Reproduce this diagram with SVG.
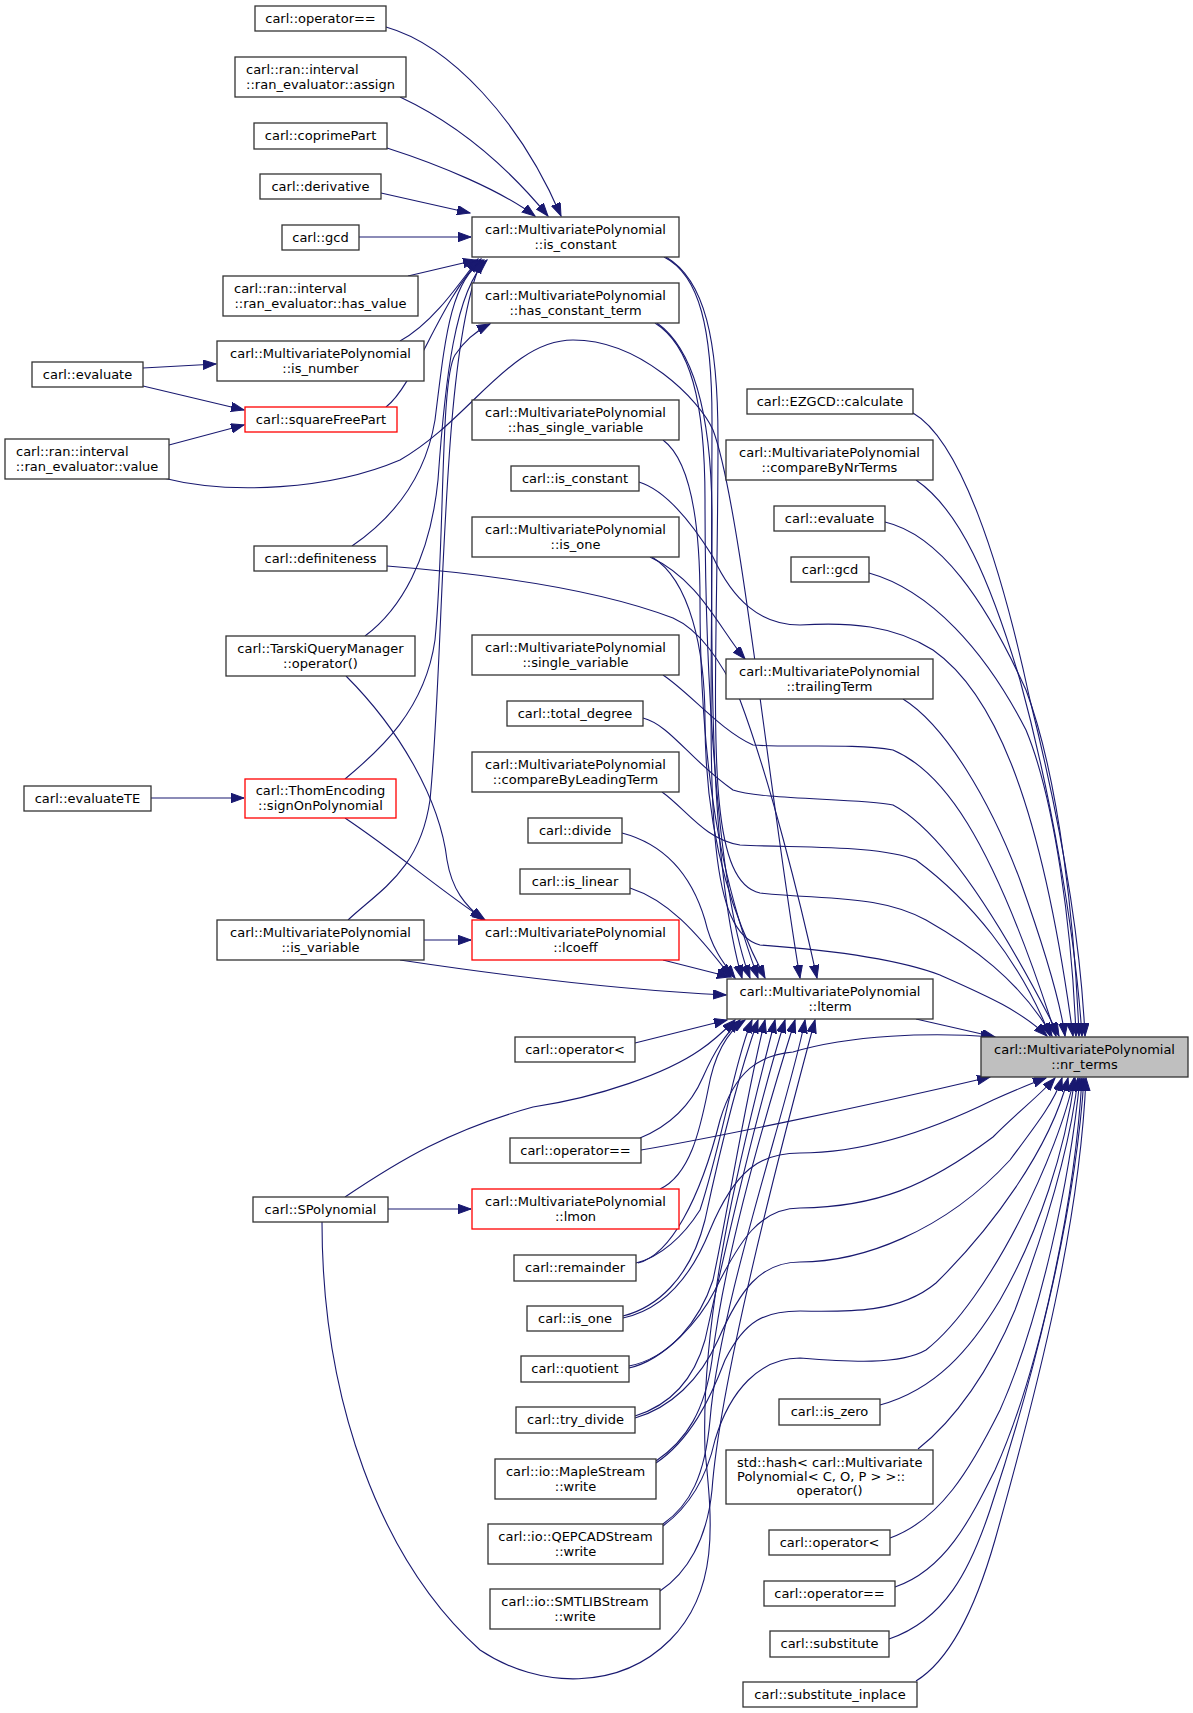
<svg xmlns="http://www.w3.org/2000/svg" width="1193" height="1713" viewBox="0 0 1193 1713">
<style>
.n rect{fill:#fff;stroke:#333;stroke-width:1.3}
.n.r rect{stroke:#ff0000}
.n.g rect{fill:#bfbfbf;stroke:#333}
text{font-family:"DejaVu Sans","Liberation Sans",sans-serif;font-size:13px;fill:#000;text-anchor:middle}
text.l{text-anchor:start}
#edges path{fill:none;stroke:#191970;stroke-width:1.1;marker-end:url(#ah)}
</style>
<defs>
<marker id="ah" markerUnits="userSpaceOnUse" markerWidth="14" markerHeight="10" refX="13" refY="4.7" orient="auto">
<path d="M0,0 L13,4.7 L0,9.4 z" fill="#191970" stroke="#191970" stroke-width="1"/>
</marker>
</defs>
<rect width="1193" height="1713" fill="#fff"/>
<g id="edges">
<path d="M386,27 C450,45 520,120 561,216"/>
<path d="M400,97 C460,125 510,170 548,216"/>
<path d="M387,148 C440,165 500,190 535,216"/>
<path d="M381,193 L470,213"/>
<path d="M359,237 L471,237"/>
<path d="M408,276 L476,260"/>
<path d="M400,341 C430,325 455,290 478,259"/>
<path d="M386,407 C415,385 440,300 481,259"/>
<path d="M352,546 C390,520 425,480 435,420 C445,340 450,280 484,260"/>
<path d="M365,636 C400,610 430,560 438,480 C445,380 455,290 487,260"/>
<path d="M345,779 C380,750 425,710 435,640 C445,540 440,380 455,355 C465,340 478,330 490,324"/>
<path d="M348,920 C380,890 420,870 430,800 C445,650 440,350 482,260"/>
<path d="M143,368 L216,364"/>
<path d="M143,386 L244,410"/>
<path d="M169,445 L244,425"/>
<path d="M151,798 L244,798"/>
<path d="M424,940 L471,940"/>
<path d="M388,1209 L471,1209"/>
<path d="M346,676 C400,730 440,800 447,860 C452,890 465,905 483,920"/>
<path d="M345,818 C400,855 440,890 485,920"/>
<path d="M400,960 C500,975 620,990 726,995"/>
<path d="M163,478 C230,495 330,490 400,460 C470,420 510,340 573,340 C640,340 700,400 713,430 C740,500 770,800 800,978"/>
<path d="M387,566 C500,575 600,590 673,618 C700,630 720,660 740,700 C770,780 800,900 817,978"/>
<path d="M664,257 C700,275 712,330 712,420 C712,600 705,850 742,978"/>
<path d="M666,257 C705,280 718,340 718,440 C718,700 700,880 760,893 C830,900 880,895 926,920 C970,945 1020,980 1052,1036"/>
<path d="M655,323 C690,345 705,400 705,500 C705,700 720,900 750,978"/>
<path d="M657,323 C695,350 712,420 712,520 C712,760 700,930 760,945 C830,950 900,960 940,975 C985,995 1020,1010 1047,1036"/>
<path d="M663,440 C690,460 700,520 700,600 C700,800 730,900 758,978"/>
<path d="M639,482 C665,490 690,520 713,557 C733,600 760,625 800,625 C850,622 893,625 933,650 C990,690 1040,790 1073,1036"/>
<path d="M650,557 C700,580 720,630 745,659"/>
<path d="M652,557 C690,580 705,650 705,720 C705,850 740,930 765,978"/>
<path d="M663,675 C690,693 720,730 753,745 C790,748 853,743 893,750 C940,770 990,830 1056,1036"/>
<path d="M643,718 C670,725 690,760 733,790 C760,800 860,798 893,805 C935,827 990,900 1059,1036"/>
<path d="M662,792 C685,808 705,840 740,845 C800,848 880,845 916,860 C970,900 1020,960 1050,1036"/>
<path d="M622,833 C660,843 690,870 705,920 C712,950 725,965 735,978"/>
<path d="M630,888 C667,900 695,930 731,977"/>
<path d="M663,960 L730,977"/>
<path d="M635,1043 L727,1020"/>
<path d="M640,1138 C667,1127 690,1107 703,1077 C715,1050 725,1035 740,1020"/>
<path d="M641,1150 C700,1140 850,1110 990,1077"/>
<path d="M660,1189 C690,1175 700,1130 708,1090 C715,1050 730,1030 745,1020"/>
<path d="M345,1197 C400,1160 450,1130 533,1107 C600,1097 667,1073 700,1050 C715,1040 725,1030 735,1020"/>
<path d="M636,1263 C660,1257 683,1237 700,1210 C720,1150 735,1060 752,1020"/>
<path d="M638,1263 C670,1255 700,1200 720,1120 C735,1070 760,1055 793,1052 C850,1035 930,1032 994,1037"/>
<path d="M623,1316 C655,1308 690,1280 705,1220 C720,1150 740,1070 758,1020"/>
<path d="M623,1318 C660,1310 690,1280 710,1230 C735,1170 760,1153 800,1153 C860,1153 926,1133 993,1100 C1020,1088 1035,1082 1046,1078"/>
<path d="M629,1366 C670,1358 700,1320 713,1280 C730,1200 745,1100 765,1020"/>
<path d="M629,1368 C665,1360 700,1320 715,1290 C740,1240 760,1208 800,1208 C876,1207 926,1187 993,1137 C1020,1110 1040,1095 1055,1078"/>
<path d="M635,1416 C667,1406 693,1383 705,1340 C725,1250 760,1100 785,1020"/>
<path d="M635,1418 C670,1408 700,1380 718,1340 C740,1290 760,1262 800,1262 C860,1262 943,1233 1010,1160 C1040,1120 1055,1100 1062,1078"/>
<path d="M656,1461 C687,1440 705,1410 712,1360 C725,1250 770,1100 795,1020"/>
<path d="M656,1463 C690,1440 710,1400 725,1360 C745,1320 765,1311 800,1311 C850,1312 900,1313 936,1283 C990,1230 1050,1150 1068,1078"/>
<path d="M663,1524 C690,1505 705,1476 710,1420 C720,1300 790,1100 805,1020"/>
<path d="M663,1526 C690,1506 707,1476 715,1440 C730,1390 760,1358 800,1358 C850,1362 900,1365 926,1350 C990,1300 1060,1150 1074,1078"/>
<path d="M660,1591 C687,1573 707,1540 712,1490 C720,1380 780,1150 815,1020"/>
<path d="M322,1222 C322,1400 380,1560 480,1650 C540,1690 620,1690 670,1640 C720,1590 712,1520 705,1450 C700,1300 750,1120 775,1020"/>
<path d="M913,413 C960,440 1000,560 1030,700 C1060,820 1080,930 1085,1036"/>
<path d="M916,480 C960,510 990,580 1020,680 C1050,790 1075,930 1082,1036"/>
<path d="M885,522 C940,535 985,600 1026,690 C1060,780 1075,930 1079,1036"/>
<path d="M869,573 C930,590 985,650 1026,730 C1055,800 1072,930 1076,1036"/>
<path d="M903,699 C945,725 990,800 1020,880 C1045,950 1060,1000 1065,1036"/>
<path d="M916,1019 L995,1037"/>
<path d="M880,1405 C935,1390 970,1350 1000,1300 C1040,1230 1065,1150 1075,1078"/>
<path d="M918,1449 C955,1420 990,1370 1015,1310 C1045,1230 1070,1150 1078,1078"/>
<path d="M890,1538 C940,1520 970,1470 1000,1410 C1040,1320 1070,1180 1080,1078"/>
<path d="M895,1587 C945,1570 970,1520 995,1470 C1040,1370 1075,1200 1082,1078"/>
<path d="M889,1639 C945,1620 970,1570 990,1510 C1030,1390 1075,1220 1084,1078"/>
<path d="M916,1681 C950,1660 975,1610 995,1540 C1040,1380 1080,1220 1086,1078"/>
</g>
<g id="n_nr_terms" class="n g"><rect x="981" y="1037" width="207" height="40"/><text x="1084.5" y="1053.5">carl::MultivariatePolynomial</text><text x="1084.5" y="1068.5">::nr_terms</text></g>
<g id="n_ezgcd" class="n"><rect x="747" y="389" width="166" height="25"/><text x="830" y="406">carl::EZGCD::calculate</text></g>
<g id="n_cmpnr" class="n"><rect x="726" y="440" width="207" height="40"/><text x="829.5" y="456.5">carl::MultivariatePolynomial</text><text x="829.5" y="471.5">::compareByNrTerms</text></g>
<g id="n_eval_r" class="n"><rect x="774" y="506" width="111" height="25"/><text x="829.5" y="523">carl::evaluate</text></g>
<g id="n_gcd_r" class="n"><rect x="791" y="557" width="78" height="25"/><text x="830" y="574">carl::gcd</text></g>
<g id="n_trailing" class="n"><rect x="726" y="659" width="207" height="40"/><text x="829.5" y="675.5">carl::MultivariatePolynomial</text><text x="829.5" y="690.5">::trailingTerm</text></g>
<g id="n_lterm" class="n"><rect x="727" y="979" width="206" height="40"/><text x="830" y="995.5">carl::MultivariatePolynomial</text><text x="830" y="1010.5">::lterm</text></g>
<g id="n_is_zero" class="n"><rect x="779" y="1399" width="101" height="26"/><text x="829.5" y="1416">carl::is_zero</text></g>
<g id="n_hash" class="n"><rect x="726" y="1450" width="207" height="54"/><text class="l" x="737" y="1467">std::hash&lt; carl::Multivariate</text><text class="l" x="737" y="1481">Polynomial&lt; C, O, P &gt; &gt;::</text><text x="829.5" y="1495">operator()</text></g>
<g id="n_oplt_r" class="n"><rect x="769" y="1530" width="121" height="25"/><text x="829.5" y="1547">carl::operator&lt;</text></g>
<g id="n_opeq_r" class="n"><rect x="764" y="1581" width="131" height="25"/><text x="829.5" y="1598">carl::operator==</text></g>
<g id="n_subst" class="n"><rect x="770" y="1631" width="119" height="26"/><text x="829.5" y="1648">carl::substitute</text></g>
<g id="n_subst_inpl" class="n"><rect x="743" y="1682" width="174" height="25"/><text x="830" y="1699">carl::substitute_inplace</text></g>
<g id="n_mp_is_const" class="n"><rect x="472" y="217" width="207" height="40"/><text x="575.5" y="233.5">carl::MultivariatePolynomial</text><text x="575.5" y="248.5">::is_constant</text></g>
<g id="n_has_const" class="n"><rect x="472" y="283" width="207" height="40"/><text x="575.5" y="299.5">carl::MultivariatePolynomial</text><text x="575.5" y="314.5">::has_constant_term</text></g>
<g id="n_has_single" class="n"><rect x="472" y="400" width="207" height="40"/><text x="575.5" y="416.5">carl::MultivariatePolynomial</text><text x="575.5" y="431.5">::has_single_variable</text></g>
<g id="n_is_const" class="n"><rect x="511" y="466" width="128" height="25"/><text x="575" y="483">carl::is_constant</text></g>
<g id="n_mp_is_one" class="n"><rect x="472" y="517" width="207" height="40"/><text x="575.5" y="533.5">carl::MultivariatePolynomial</text><text x="575.5" y="548.5">::is_one</text></g>
<g id="n_single_var" class="n"><rect x="472" y="635" width="207" height="40"/><text x="575.5" y="651.5">carl::MultivariatePolynomial</text><text x="575.5" y="666.5">::single_variable</text></g>
<g id="n_total_deg" class="n"><rect x="507" y="701" width="136" height="25"/><text x="575" y="718">carl::total_degree</text></g>
<g id="n_cmplead" class="n"><rect x="472" y="752" width="207" height="40"/><text x="575.5" y="768.5">carl::MultivariatePolynomial</text><text x="575.5" y="783.5">::compareByLeadingTerm</text></g>
<g id="n_divide" class="n"><rect x="528" y="818" width="94" height="25"/><text x="575" y="835">carl::divide</text></g>
<g id="n_is_linear" class="n"><rect x="520" y="869" width="110" height="25"/><text x="575" y="886">carl::is_linear</text></g>
<g id="n_lcoeff" class="n r"><rect x="472" y="920" width="207" height="40"/><text x="575.5" y="936.5">carl::MultivariatePolynomial</text><text x="575.5" y="951.5">::lcoeff</text></g>
<g id="n_oplt_l" class="n"><rect x="515" y="1037" width="120" height="25"/><text x="575" y="1054">carl::operator&lt;</text></g>
<g id="n_opeq_l" class="n"><rect x="510" y="1138" width="131" height="25"/><text x="575.5" y="1155">carl::operator==</text></g>
<g id="n_lmon" class="n r"><rect x="472" y="1189" width="207" height="40"/><text x="575.5" y="1205.5">carl::MultivariatePolynomial</text><text x="575.5" y="1220.5">::lmon</text></g>
<g id="n_remainder" class="n"><rect x="514" y="1255" width="122" height="26"/><text x="575" y="1272">carl::remainder</text></g>
<g id="n_is_one" class="n"><rect x="527" y="1306" width="96" height="25"/><text x="575" y="1323">carl::is_one</text></g>
<g id="n_quotient" class="n"><rect x="521" y="1356" width="108" height="26"/><text x="575" y="1373">carl::quotient</text></g>
<g id="n_try_divide" class="n"><rect x="516" y="1407" width="119" height="26"/><text x="575.5" y="1424">carl::try_divide</text></g>
<g id="n_maple" class="n"><rect x="495" y="1459" width="161" height="40"/><text x="575.5" y="1475.5">carl::io::MapleStream</text><text x="575.5" y="1490.5">::write</text></g>
<g id="n_qepcad" class="n"><rect x="488" y="1524" width="175" height="40"/><text x="575.5" y="1540.5">carl::io::QEPCADStream</text><text x="575.5" y="1555.5">::write</text></g>
<g id="n_smtlib" class="n"><rect x="490" y="1589" width="170" height="40"/><text x="575" y="1605.5">carl::io::SMTLIBStream</text><text x="575" y="1620.5">::write</text></g>
<g id="n_opeq_top" class="n"><rect x="255" y="6" width="131" height="25"/><text x="320.5" y="23">carl::operator==</text></g>
<g id="n_assign" class="n"><rect x="235" y="57" width="171" height="40"/><text class="l" x="246" y="73.5">carl::ran::interval</text><text x="320.5" y="88.5">::ran_evaluator::assign</text></g>
<g id="n_coprime" class="n"><rect x="254" y="123" width="133" height="26"/><text x="320.5" y="140">carl::coprimePart</text></g>
<g id="n_deriv" class="n"><rect x="260" y="174" width="121" height="25"/><text x="320.5" y="191">carl::derivative</text></g>
<g id="n_gcd_l" class="n"><rect x="282" y="225" width="77" height="25"/><text x="320.5" y="242">carl::gcd</text></g>
<g id="n_has_value" class="n"><rect x="223" y="276" width="195" height="40"/><text class="l" x="234" y="292.5">carl::ran::interval</text><text x="320.5" y="307.5">::ran_evaluator::has_value</text></g>
<g id="n_is_number" class="n"><rect x="217" y="341" width="207" height="40"/><text x="320.5" y="357.5">carl::MultivariatePolynomial</text><text x="320.5" y="372.5">::is_number</text></g>
<g id="n_sqfree" class="n r"><rect x="245" y="407" width="152" height="25"/><text x="321" y="424">carl::squareFreePart</text></g>
<g id="n_definite" class="n"><rect x="254" y="546" width="133" height="25"/><text x="320.5" y="563">carl::definiteness</text></g>
<g id="n_tarski" class="n"><rect x="226" y="636" width="189" height="40"/><text x="320.5" y="652.5">carl::TarskiQueryManager</text><text x="320.5" y="667.5">::operator()</text></g>
<g id="n_signon" class="n r"><rect x="245" y="779" width="151" height="39"/><text x="320.5" y="795">carl::ThomEncoding</text><text x="320.5" y="810">::signOnPolynomial</text></g>
<g id="n_is_var" class="n"><rect x="217" y="920" width="207" height="40"/><text x="320.5" y="936.5">carl::MultivariatePolynomial</text><text x="320.5" y="951.5">::is_variable</text></g>
<g id="n_spoly" class="n"><rect x="253" y="1197" width="135" height="25"/><text x="320.5" y="1214">carl::SPolynomial</text></g>
<g id="n_eval_l" class="n"><rect x="32" y="362" width="111" height="25"/><text x="87.5" y="379">carl::evaluate</text></g>
<g id="n_value" class="n"><rect x="5" y="439" width="164" height="40"/><text class="l" x="16" y="455.5">carl::ran::interval</text><text x="87" y="470.5">::ran_evaluator::value</text></g>
<g id="n_evalTE" class="n"><rect x="24" y="786" width="127" height="25"/><text x="87.5" y="803">carl::evaluateTE</text></g>
</svg>
